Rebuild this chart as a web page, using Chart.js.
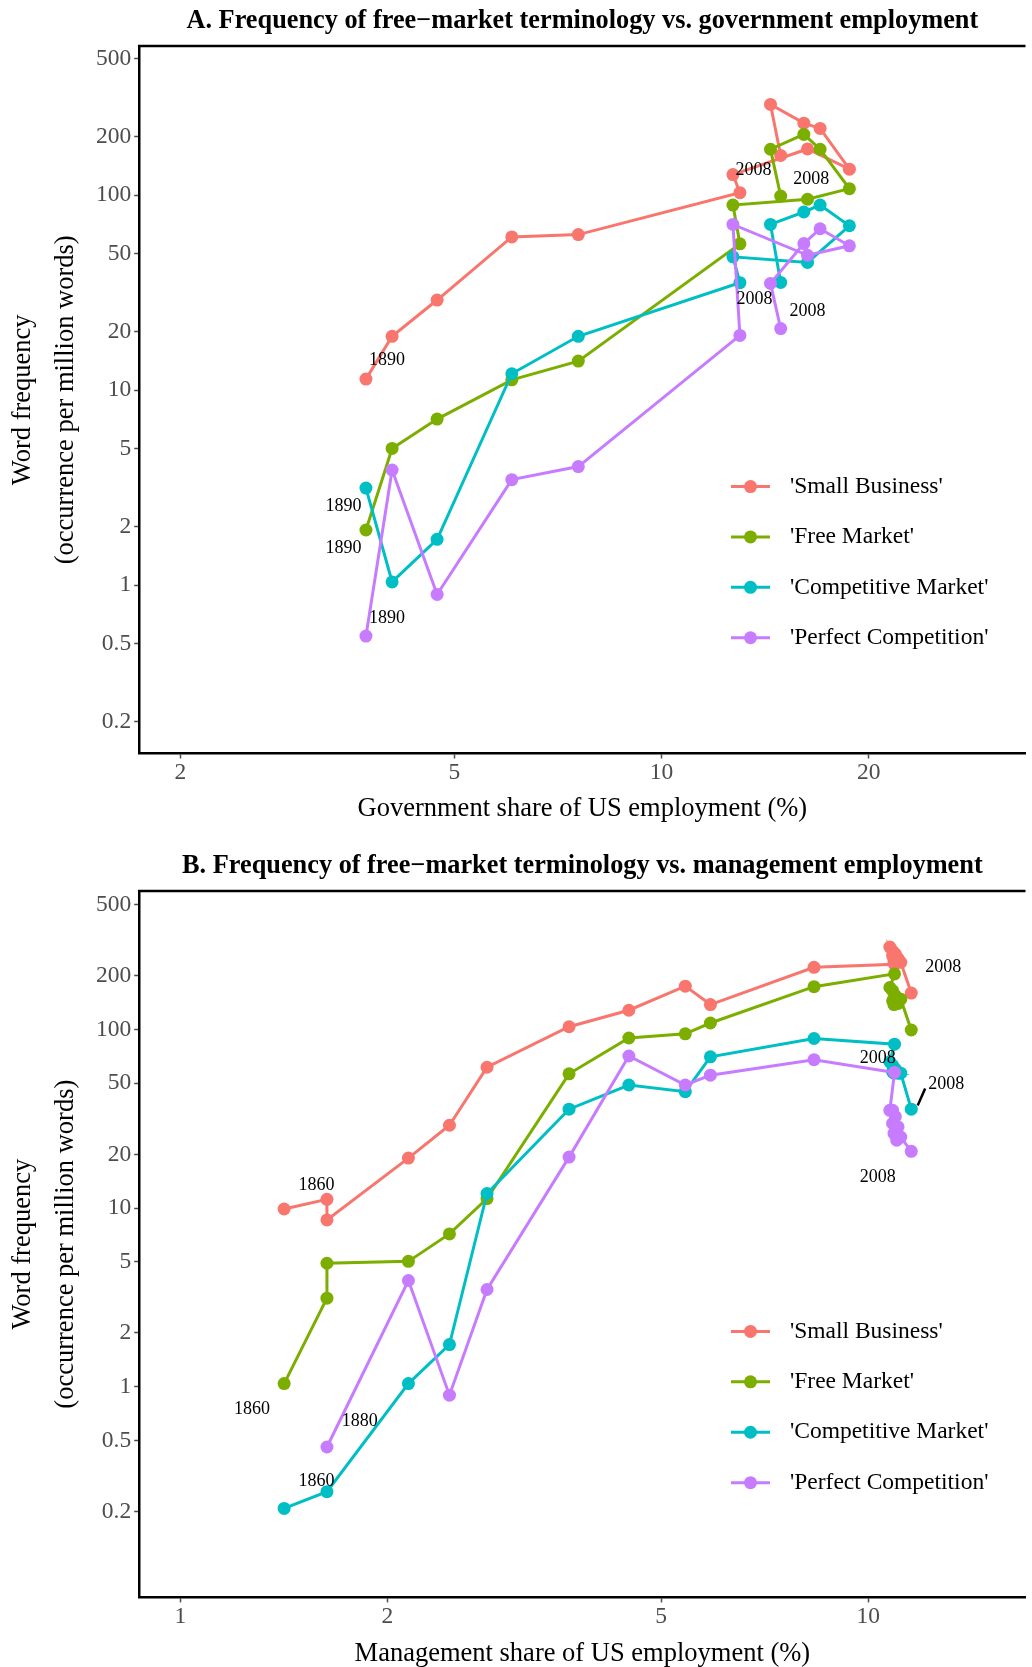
<!DOCTYPE html>
<html>
<head>
<meta charset="utf-8">
<script src="https://cdn.jsdelivr.net/npm/chart.js@4.4.1/dist/chart.umd.min.js"></script>
<style>
body{margin:0;background:#fff;overflow:hidden;}
canvas{position:absolute;left:0;}
#chartA{top:0;}
#chartB{top:840px;}
</style>
</head>
<body>
<canvas id="chartA" width="1032" height="840"></canvas>
<canvas id="chartB" width="1032" height="830"></canvas>
<script>
const seriesNames=["'Small Business'","'Free Market'","'Competitive Market'","'Perfect Competition'"]
const seriesColors=["#F8766D","#7CAE00","#00BFC4","#C77CFF"]

// panel A: government share, 1890-2008
const yearsA=[1890,1900,1910,1920,1930,1940,1950,1960,1970,1980,1990,2000,2008]
const govShare=[3.72,4.06,4.72,6.06,7.57,13.0,12.7,16.3,18.75,17.0,16.1,14.4,14.9]
const smallBizA=[11.4,18.9,29.0,61.1,62.8,103,127.6,172.6,136,220,234,292,160]
const freeMktA=[1.92,5.03,7.11,11.3,14.1,56.3,89,95.3,108,172,205,172,99]
const compMktA=[3.15,1.04,1.72,12.15,18.9,35.6,48.3,45.2,69.7,89,82,70.8,35.7]
const perfCompA=[0.549,3.90,0.897,3.48,4.06,19.1,70.8,49.2,55.0,67.3,56.5,35.3,20.7]

// panel B: management share, 1860-2008
const yearsB=[1860,1870,1880,1900,1910,1920,1940,1950,1960,1970,1980,1990,2000,2001,2002,2003,2004,2005,2006,2007,2008]
const mgmtShare=[1.415,1.633,1.633,2.145,2.461,2.791,3.673,4.487,5.42,5.896,8.34,10.92,10.75,10.85,10.95,10.85,11.05,10.9,11.0,11.15,11.55]
const smallBizB=[9.88,11.2,8.59,19.05,29.1,61.5,103.7,128.3,175,138,223,232,290,275,265,258,250,240,248,238,160]
const freeMktB=[1.04,3.13,4.91,5.03,7.17,11.3,56.5,89.7,94.6,108.8,173.8,205,172,165,155,145,140,138,142,148,99.4]
const compMktB=[0.208,0.258,null,1.04,1.72,12.07,35.8,48.9,44.9,70.3,89.1,82.8,66,63,60,58,57,57,58,57,35.8]
const perfCompB=[null,null,0.459,3.93,0.896,3.50,19.3,71.1,48.9,55.5,67.8,57.5,35.3,35.3,32.5,29.8,28.5,26.2,24.0,25.0,20.8]

const yTicks=[0.2,0.5,1,2,5,10,20,50,100,200,500]
const xTicksA=[2,5,10,20]
const xTicksB=[1,2,5,10]

const yearLabelsA=[
{text:"1890",x:3.99,y:14.2},
{text:"1890",x:3.45,y:2.55},
{text:"1890",x:3.45,y:1.54},
{text:"1890",x:3.99,y:0.674},
{text:"2008",x:13.6,y:134},
{text:"2008",x:16.5,y:120},
{text:"2008",x:13.65,y:29.4},
{text:"2008",x:16.3,y:25.3}
]
const yearLabelsB=[
{text:"1860",x:1.577,y:13.5},
{text:"1860",x:1.271,y:0.751},
{text:"1880",x:1.823,y:0.638},
{text:"1860",x:1.577,y:0.2935},
{text:"2008",x:12.85,y:223},
{text:"2008",x:10.32,y:69.2},
{text:"2008",x:12.99,y:49.2},
{text:"2008",x:10.32,y:14.8}
]
const leaderB=[[11.8,37.5],[12.1,46.7]]

Chart.defaults.font.family="'Liberation Serif','Times New Roman',serif"

const extras={
id:"extras",
afterDatasetsDraw(chart,args,o){
let ctx=chart.ctx
let a=chart.chartArea
let sx=chart.scales.x
let sy=chart.scales.y
ctx.save()

// frame top
ctx.strokeStyle="#000"
ctx.lineWidth=2.5
ctx.beginPath()
ctx.moveTo(a.left-1.25,a.top)
ctx.lineTo(a.right,a.top)
ctx.stroke()

ctx.font="18px 'Liberation Serif'"
ctx.fillStyle="#000"
ctx.textAlign="center"
ctx.textBaseline="middle"
o.labels.forEach(l=>{
ctx.fillText(l.text,sx.getPixelForValue(l.x),sy.getPixelForValue(l.y))
})

if(o.leader){
ctx.lineWidth=2.5
ctx.beginPath()
ctx.moveTo(sx.getPixelForValue(o.leader[0][0]),sy.getPixelForValue(o.leader[0][1]))
ctx.lineTo(sx.getPixelForValue(o.leader[1][0]),sy.getPixelForValue(o.leader[1][1]))
ctx.stroke()
}

// legend
ctx.font="23.5px 'Liberation Serif'"
ctx.textAlign="left"
chart.data.datasets.forEach((d,i)=>{
let y=a.top+440.5+i*50.4
ctx.strokeStyle=d.borderColor
ctx.lineWidth=3
ctx.beginPath()
ctx.moveTo(731,y)
ctx.lineTo(770,y)
ctx.stroke()
ctx.fillStyle=d.borderColor
ctx.beginPath()
ctx.arc(750.5,y,6.5,0,Math.PI*2)
ctx.fill()
ctx.fillStyle="#000"
ctx.fillText(d.label,790,y)
})

ctx.restore()
}
}

function buildChart(id,c){

let datasets=c.series.map((ys,i)=>({
label:seriesNames[i],
data:c.xs.map((x,j)=>({x:x,y:ys[j]})).filter(p=>p.y!==null),
showLine:true,
borderColor:seriesColors[i],
backgroundColor:seriesColors[i],
borderWidth:3,
pointRadius:6.5,
pointHoverRadius:6.5,
pointBorderWidth:0,
order:4-i
}))

return new Chart(document.getElementById(id),{
type:"scatter",
data:{datasets:datasets},
plugins:[extras],
options:{
responsive:false,
animation:false,
layout:{padding:0},
plugins:{
legend:{display:false},
tooltip:{enabled:false},
title:{
display:true,
text:c.title,
fullSize:false,
color:"#000",
font:{size:26.3,weight:"bold"},
padding:{top:c.titleTop,bottom:c.titleBottom}
},
extras:{labels:c.labels,leader:c.leader}
},
scales:{
x:{
type:"logarithmic",
min:c.xMin,
max:c.xMax,
bounds:"data",
afterBuildTicks:s=>{s.ticks=c.xTicks.map(v=>({value:v}))},
afterFit:s=>{s.height=c.xAxisH},
ticks:{callback:v=>String(v),color:"#4D4D4D",font:{size:23.5},padding:0,maxRotation:0,autoSkip:false},
grid:{drawOnChartArea:false,tickLength:5,color:"#4D4D4D",tickWidth:1.5},
border:{color:"#000",width:2.5},
title:{display:true,text:c.xTitle,color:"#000",font:{size:26.5},padding:{top:0,bottom:c.xTitlePad}}
},
y:{
type:"logarithmic",
min:c.yMin,
max:c.yMax,
bounds:"data",
afterBuildTicks:s=>{s.ticks=yTicks.map(v=>({value:v}))},
afterFit:s=>{s.width=139.2},
ticks:{callback:v=>String(v),color:"#4D4D4D",font:{size:23.5},padding:3,autoSkip:false},
grid:{drawOnChartArea:false,tickLength:5,color:"#4D4D4D",tickWidth:1.5},
border:{color:"#000",width:2.5},
title:{display:true,text:["Word frequency","(occurrence per million words)"],color:"#000",font:{size:26.5,lineHeight:1.604},padding:{top:2,bottom:0}}
}
}
}
})

}

buildChart("chartA",{
xs:govShare,
series:[smallBizA,freeMktA,compMktA,perfCompA],
title:"A. Frequency of free\u2212market terminology vs. government employment",
titleTop:5.7,
titleBottom:8.8,
xTitle:"Government share of US employment (%)",
xMin:1.742,
xMax:33.8,
xTicks:xTicksA,
yMin:0.1372,
yMax:581.6,
xAxisH:86.5,
xTitlePad:15.3,
labels:yearLabelsA,
leader:null
})

buildChart("chartB",{
xs:mgmtShare,
series:[smallBizB,freeMktB,compMktB,perfCompB],
title:"B. Frequency of free\u2212market terminology vs. management employment",
titleTop:10.6,
titleBottom:8.8,
xTitle:"Management share of US employment (%)",
xMin:0.871,
xMax:16.93,
xTicks:xTicksB,
yMin:0.066,
yMax:597.3,
xAxisH:72.6,
xTitlePad:0,
labels:yearLabelsB,
leader:leaderB
})
</script>
</body>
</html>
